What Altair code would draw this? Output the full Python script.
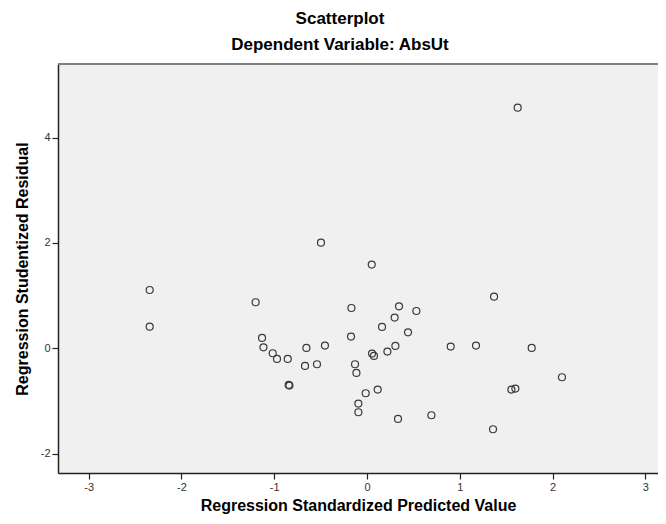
import altair as alt
import pandas as pd

pred = [1.624, -0.496, 0.051, 1.369, -2.342, -2.342,
        -1.200, -0.168, 0.345, 0.532, 0.298, 0.162, 0.442, -0.172,
        -1.131, -1.116, -1.016, -0.970, -0.854, -0.653, -0.453,
        -0.668, -0.539, -0.844, -0.836, -0.129, -0.114, 0.054, 0.075,
        0.220, 0.306, 0.902, 1.175, 1.775, 2.101, 1.556, 1.599,
        0.115, -0.014, -0.093, -0.093, 0.334, 0.694, 1.358]
resid = [4.57, 2.006, 1.59, 0.98, 1.107, 0.41,
         0.874, 0.765, 0.797, 0.708, 0.582, 0.405, 0.303, 0.221,
         0.196, 0.018, -0.095, -0.203, -0.203, 0.006, 0.05,
         -0.336, -0.304, -0.697, -0.71, -0.304, -0.469, -0.102, -0.146,
         -0.064, 0.044, 0.031, 0.05, 0.006, -0.551, -0.786, -0.767,
         -0.786, -0.855, -1.052, -1.216, -1.343, -1.273, -1.539]

x_ticks = [-3, -2, -1, 0, 1, 2, 3]
y_ticks = [-2, 0, 2, 4]

df = pd.DataFrame({"pred": pred, "resid": resid})

FONT = "Liberation Sans"
W, H = 600, 409

points = alt.Chart(df).mark_point(
    shape="circle", filled=False, size=49, stroke="#3a3a3a", strokeWidth=1.2, opacity=1
).encode(
    x=alt.X("pred:Q", scale=alt.Scale(domain=[-3.33, 3.136], nice=False, zero=False),
            axis=alt.Axis(title="Regression Standardized Predicted Value", values=x_ticks,
                          labelExpr="toString(datum.value)",
                          grid=False, tickSize=6, labelPadding=2, titlePadding=5)),
    y=alt.Y("resid:Q", scale=alt.Scale(domain=[-2.37, 5.40], nice=False, zero=False),
            axis=alt.Axis(title="Regression Studentized Residual", values=y_ticks,
                          labelExpr="toString(datum.value)",
                          grid=False, tickSize=6, labelPadding=2, titlePadding=10)),
)

top_border = alt.Chart(df).mark_rule(stroke="#808080", strokeWidth=2).encode(
    x=alt.value(0), x2=alt.value(W), y=alt.value(0)
)

chart = alt.layer(points, top_border).properties(
    width=W, height=H,
    title=alt.TitleParams(
        text="Scatterplot", subtitle="Dependent Variable: AbsUt",
        anchor="middle", dx=-18, offset=9.5, subtitlePadding=9,
        font=FONT, fontSize=17, fontWeight="bold", color="#000000",
        subtitleFont=FONT, subtitleFontSize=17, subtitleFontWeight="bold", subtitleColor="#000000",
    ),
    autosize=alt.AutoSizeParams(type="none"),
    padding={"left": 50, "top": 56, "right": 0, "bottom": 43},
).configure_view(
    fill="#F0F0F0", stroke=None
).configure_axis(
    labelFont=FONT, labelFontSize=11, labelColor="#333333",
    titleFont=FONT, titleFontSize=16, titleFontWeight="bold", titleColor="#000000",
    domainColor="#222222", domainWidth=1.5, tickColor="#222222", tickWidth=1.2,
)

chart.save("out.html", embed_options={"renderer": "svg", "actions": False})
